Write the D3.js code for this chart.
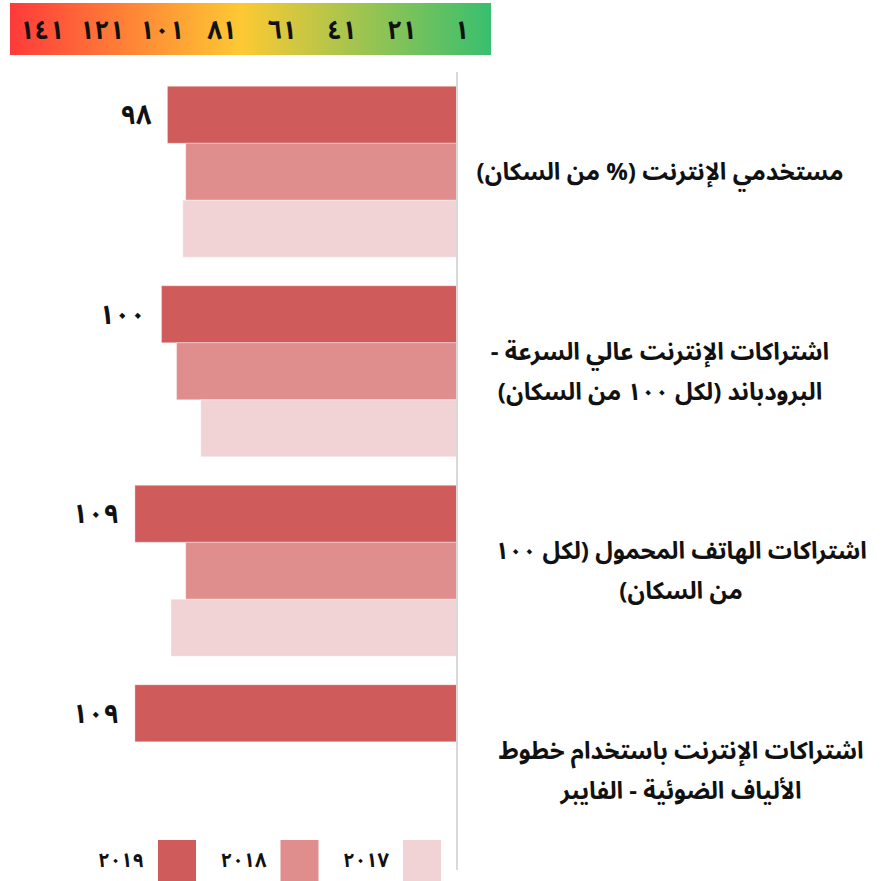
<!DOCTYPE html>
<html>
<head>
<meta charset="utf-8">
<script src="https://cdn.jsdelivr.net/npm/d3@7"></script>
<style>
  body { margin: 0; background: #fff; }
  svg { font-family: "Noto Sans Arabic", "Noto Naskh Arabic", "DejaVu Sans", sans-serif; font-weight: bold; }
</style>
</head>
<body>
<div class="chart"></div>
<script>
// Category labels (already split in two lines where the original wraps)
var categoryLines = [
  ["مستخدمي الإنترنت (% من السكان)"],
  ["اشتراكات الإنترنت عالي السرعة -", "البرودباند (لكل ١٠٠ من السكان)"],
  ["اشتراكات الهاتف المحمول (لكل ١٠٠", "من السكان)"],
  ["اشتراكات الإنترنت باستخدام خطوط", "الألياف الضوئية - الفايبر"]
];
var years = ["2019", "2018", "2017"];
var values2019 = [98, 100, 109, 109];
var values2018 = [91.8, 94.9, 91.8, null];
var values2017 = [92.8, 86.7, 96.8, null];
var rankTicks = [1, 21, 41, 61, 81, 101, 121, 141];

var svgWidth = 882;
var svgHeight = 881;

var colors = { "2019": "#d05b5b", "2018": "#e08d8e", "2017": "#f2d3d5" };

function arabicDigits(n) {
  return String(n).replace(/\d/g, function (d) { return "٠١٢٣٤٥٦٧٨٩"[+d]; });
}

var svg = d3.select(".chart")
  .append("svg")
  .attr("width", svgWidth)
  .attr("height", svgHeight);

// --- gradient rank legend on top
var defs = svg.append("defs");
var grad = defs.append("linearGradient").attr("id", "rankGrad");
grad.append("stop").attr("offset", "0%").attr("stop-color", "#ff3a3a");
grad.append("stop").attr("offset", "48%").attr("stop-color", "#fdc933");
grad.append("stop").attr("offset", "100%").attr("stop-color", "#38bf6f");

svg.append("rect")
  .attr("x", 10).attr("y", 3)
  .attr("width", 481).attr("height", 52)
  .attr("fill", "url(#rankGrad)");

var rankScale = d3.scaleLinear().domain([1, 141]).range([462, 42]);

svg.selectAll(".rankTick")
  .data(rankTicks)
  .enter()
  .append("text")
  .attr("class", "rankTick")
  .attr("x", d => rankScale(d))
  .attr("y", 30)
  .attr("dy", "0.35em")
  .attr("text-anchor", "middle")
  .attr("font-size", "26px")
  .attr("fill", "#111")
  .text(d => arabicDigits(d));

// --- bars
var rows = categoryLines.map(function (lines, i) {
  return {
    lines: lines,
    bars: [
      { year: "2019", value: values2019[i] },
      { year: "2018", value: values2018[i] },
      { year: "2017", value: values2017[i] }
    ]
  };
});

var xScale = d3.scaleLinear().domain([0, 150]).range([457, 457 - 150 * 2.955]);

var yScale = d3.scaleBand()
  .domain(d3.range(categoryLines.length))
  .range([72, 870])
  .paddingInner(0.143)
  .paddingOuter(0.0714);

var yInner = d3.scaleBand()
  .domain(years)
  .range([0, yScale.bandwidth()]);

var groups = svg.selectAll(".cat")
  .data(rows)
  .enter()
  .append("g")
  .attr("class", "cat")
  .attr("transform", (d, i) => `translate(0, ${yScale(i)})`);

groups.selectAll("rect")
  .data(d => d.bars.filter(b => b.value != null))
  .enter()
  .append("rect")
  .attr("x", d => xScale(d.value))
  .attr("y", d => yInner(d.year))
  .attr("width", d => xScale(0) - xScale(d.value))
  .attr("height", yInner.bandwidth())
  .attr("fill", d => colors[d.year])
  .attr("stroke", "#fff")
  .attr("stroke-opacity", 0.35)
  .attr("stroke-width", 1);

// value labels for the latest year only
groups.append("text")
  .attr("x", d => xScale(d.bars[0].value) - 16)
  .attr("y", yInner("2019") + yInner.bandwidth() / 2)
  .attr("dy", "0.35em")
  .attr("text-anchor", "end")
  .attr("font-size", "27px")
  .attr("fill", "#111")
  .text(d => arabicDigits(Math.round(d.bars[0].value)));

// category labels on the right
var lineHeight = 40;
groups.each(function (d, i) {
  var g = d3.select(this);
  var cx = i < 2 ? 660 : 681;
  var mid = yScale.bandwidth() / 2;
  d.lines.forEach(function (line, j) {
    g.append("text")
      .attr("x", cx)
      .attr("y", mid + (j - (d.lines.length - 1) / 2) * lineHeight)
      .attr("dy", "0.35em")
      .attr("text-anchor", "middle")
      .attr("direction", "rtl")
      .attr("font-size", "24px")
      .attr("fill", "#111")
      .text(line);
  });
});

// vertical axis line at zero
svg.append("line")
  .attr("x1", xScale(0)).attr("x2", xScale(0))
  .attr("y1", 72).attr("y2", 870)
  .attr("stroke", "#d9d9d9")
  .attr("stroke-width", 2);

// --- year legend at the bottom
var legend = svg.selectAll(".legend")
  .data(years)
  .enter()
  .append("g")
  .attr("class", "legend")
  .attr("transform", (d, i) => `translate(${158 + i * 122.5}, 840)`);

legend.append("rect")
  .attr("width", 38)
  .attr("height", 41)
  .attr("fill", d => colors[d]);

legend.append("text")
  .attr("x", -14)
  .attr("y", 20)
  .attr("dy", "0.35em")
  .attr("text-anchor", "end")
  .attr("font-size", "20px")
  .attr("fill", "#111")
  .text(d => arabicDigits(d));
</script>
</body>
</html>
